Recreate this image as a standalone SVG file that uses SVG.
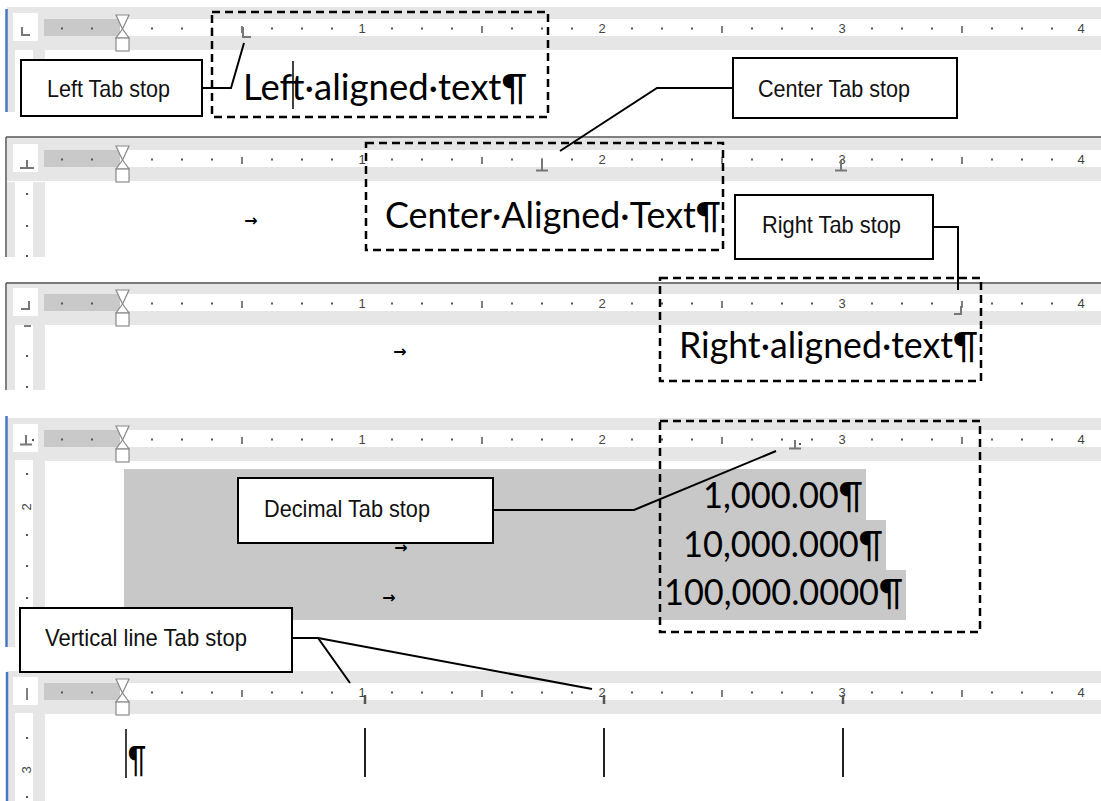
<svg xmlns="http://www.w3.org/2000/svg" xmlns:xlink="http://www.w3.org/1999/xlink" width="1101" height="801" viewBox="0 0 1101 801">
<style>
.band{fill:#e6e6e6}
.strip{fill:#fff}
.margin{fill:#c9c9c9}
.dot{fill:#555}
.tick{stroke:#555;stroke-width:1.5;fill:none}
.num{font-family:"Liberation Sans",Arial,sans-serif;font-size:13px;fill:#444;text-anchor:middle}
.hg{fill:#fff;stroke:#8a8a8a;stroke-width:1.2}
.mk{stroke:#777;stroke-width:2;fill:none}
.doc{font-family:Lato,"Open Sans",sans-serif;font-size:36px;fill:#000}
.dash{fill:none;stroke:#000;stroke-width:2.5;stroke-dasharray:8 5}
.box{fill:#fff;stroke:#000;stroke-width:2}
.lbl{font-family:"Liberation Sans",Arial,sans-serif;font-size:24px;fill:#111;text-anchor:middle}
.conn{fill:none;stroke:#000;stroke-width:2}
.frame{stroke:#555;stroke-width:1.5;fill:none}
.blue{stroke:#4a76c0;stroke-width:2.5;fill:none}
.vcol{fill:#e6e6e6}
.vwhite{fill:#fff}
.tab{font-family:"DejaVu Sans",sans-serif;font-size:16px;font-weight:bold;fill:#000;text-anchor:middle}
.cursor{stroke:#000;stroke-width:1.5}
.vline{stroke:#222;stroke-width:2}
</style>
<defs>
<g id="ruler">
<rect class="band" x="7" y="-12" width="1094" height="43"/>
<rect class="strip" x="44" y="0" width="1057" height="17"/>
<rect class="margin" x="44" y="0" width="76" height="17"/>
<rect x="13" y="-6" width="25" height="28" fill="#fff"/>
<path class="dot" d="M61 8.5h2v2h-2z M91 8.5h2v2h-2z M151 8.5h2v2h-2z M181 8.5h2v2h-2z M211 8.5h2v2h-2z M271 8.5h2v2h-2z M301 8.5h2v2h-2z M331 8.5h2v2h-2z M391 8.5h2v2h-2z M421 8.5h2v2h-2z M451 8.5h2v2h-2z M511 8.5h2v2h-2z M541 8.5h2v2h-2z M571 8.5h2v2h-2z M631 8.5h2v2h-2z M661 8.5h2v2h-2z M691 8.5h2v2h-2z M751 8.5h2v2h-2z M781 8.5h2v2h-2z M811 8.5h2v2h-2z M871 8.5h2v2h-2z M901 8.5h2v2h-2z M931 8.5h2v2h-2z M991 8.5h2v2h-2z M1021 8.5h2v2h-2z M1051 8.5h2v2h-2z"/>
<path class="tick" d="M242 7V14 M482 7V14 M722 7V14 M962 7V14"/>
<text class="num" x="362" y="14">1</text>
<text class="num" x="602" y="14">2</text>
<text class="num" x="842" y="14">3</text>
<text class="num" x="1081" y="14">4</text>
<path class="hg" d="M116 -4H129L122.5 10Z"/>
<path class="hg" d="M122.5 10L116 19H129Z"/>
<rect class="hg" x="116" y="19" width="13" height="13"/>
</g>
</defs>

<!-- Panel 1: left tab -->
<g id="panel-left">
<use xlink:href="#ruler" href="#ruler" y="19"/>
<rect class="vcol" x="7" y="50" width="38" height="62"/>
<rect class="vwhite" x="15" y="50" width="18" height="62"/>
<path class="blue" d="M6.5 9V112"/>
<path class="mk" d="M22 27V35H30"/>
<path class="mk" d="M243 27V37H251"/>
<text class="doc" x="243" y="100" textLength="284" lengthAdjust="spacingAndGlyphs">Left·aligned·text¶</text>
<line class="cursor" x1="293" y1="61" x2="293" y2="109"/>
</g>

<!-- Panel 2: center tab -->
<g id="panel-center">
<use xlink:href="#ruler" href="#ruler" y="150"/>
<rect class="vcol" x="7" y="182" width="38" height="75"/>
<rect class="vwhite" x="15" y="182" width="18" height="75"/>
<path class="frame" d="M6 137H1101 M6 137V257"/>
<path class="mk" d="M27 160V168 M20 168H34"/>
<path class="mk" d="M542 159V170 M536 170.5H548"/>
<path class="mk" d="M841 160V170 M835 170.5H847"/>
<path class="dot" d="M26 193h2v2h-2z M26 225h2v2h-2z M26 255h2v2h-2z"/>
<text class="tab" x="251" y="226">→</text>
<text class="doc" x="385" y="228" textLength="336" lengthAdjust="spacingAndGlyphs">Center·Aligned·Text¶</text>
</g>

<!-- Panel 3: right tab -->
<g id="panel-right">
<use xlink:href="#ruler" href="#ruler" y="294"/>
<rect class="vcol" x="7" y="325" width="38" height="65"/>
<rect class="vwhite" x="15" y="325" width="18" height="65"/>
<path class="frame" d="M6 283H1101 M6 283V390"/>
<path class="mk" d="M29 301V309H21"/>
<path class="mk" d="M961 306V314H954"/>
<path class="tick" d="M24 326H31"/>
<path class="dot" d="M26 355h2v2h-2z M26 386h2v2h-2z"/>
<text class="tab" x="400" y="357">→</text>
<text class="doc" x="679" y="358" textLength="299" lengthAdjust="spacingAndGlyphs">Right·aligned·text¶</text>
</g>

<!-- Panel 4: decimal tab -->
<g id="panel-decimal">
<use xlink:href="#ruler" href="#ruler" y="430"/>
<rect class="vcol" x="7" y="460" width="38" height="187"/>
<rect class="vwhite" x="15" y="460" width="18" height="187"/>
<path class="blue" d="M6.5 416V647"/>
<path class="mk" d="M26 435V444 M20 444.5H32"/>
<path class="dot" d="M32 439h2v2h-2z"/>
<path class="mk" d="M795 440V448 M789 448.5H801"/>
<path class="dot" d="M799 443h2v2h-2z"/>
<path class="dot" d="M26 473h2v2h-2z M26 534h2v2h-2z M26 565h2v2h-2z M26 597h2v2h-2z"/>
<text class="num" transform="translate(27,507) rotate(-90)" y="4">2</text>
<path d="M124 469H866V520H886V570H906V620H124Z" fill="#c8c8c8"/>
<text class="tab" x="401" y="553">→</text>
<text class="tab" x="389" y="603">→</text>
<text class="doc" x="703" y="508" textLength="160" lengthAdjust="spacingAndGlyphs">1,000.00¶</text>
<text class="doc" x="683" y="557" textLength="200" lengthAdjust="spacingAndGlyphs">10,000.000¶</text>
<text class="doc" x="664" y="605" textLength="239" lengthAdjust="spacingAndGlyphs">100,000.0000¶</text>
</g>

<!-- Panel 5: vertical line tab -->
<g id="panel-bar">
<use xlink:href="#ruler" href="#ruler" y="683"/>
<rect class="vcol" x="7" y="713" width="38" height="88"/>
<rect class="vwhite" x="15" y="713" width="18" height="88"/>
<path class="blue" d="M7 672V801"/>
<path class="tick" d="M27 688V700"/>
<path class="tick" style="stroke-width:2.5" d="M365 695V704 M604 695V704 M843 695V704"/>
<path class="dot" d="M26 737h2v2h-2z M26 796h2v2h-2z"/>
<text class="num" transform="translate(27,770) rotate(-90)" y="4">3</text>
<line class="cursor" x1="126" y1="729" x2="126" y2="778"/>
<text class="doc" x="128" y="772" font-size="32" textLength="18" lengthAdjust="spacingAndGlyphs">¶</text>
<line class="vline" x1="365" y1="728" x2="365" y2="777"/>
<line class="vline" x1="604" y1="728" x2="604" y2="777"/>
<line class="vline" x1="843" y1="728" x2="843" y2="777"/>
</g>

<!-- dashed highlight frames -->
<g id="frames">
<rect class="dash" x="212" y="12" width="336" height="105"/>
<rect class="dash" x="366" y="143" width="357" height="107"/>
<rect class="dash" x="660" y="278" width="321" height="103"/>
<rect class="dash" x="660" y="421" width="320" height="211"/>
</g>

<g id="connectors">
<polyline class="conn" points="202,88 231,88 244,43"/>
<polyline class="conn" points="733,88 657,88 560,151"/>
<polyline class="conn" points="933,227 958,227 958,290"/>
<polyline class="conn" points="493,510 634,510 776,451"/>
<polyline class="conn" points="292,638 318,638 350,683"/>
<line class="conn" x1="318" y1="638" x2="592" y2="689"/>
</g>

<g id="callout-left">
<rect class="box" x="21" y="60" width="181" height="56"/>
<text class="lbl" x="108.5" y="97" textLength="123" lengthAdjust="spacingAndGlyphs">Left Tab stop</text>
</g>
<g id="callout-center">
<rect class="box" x="733" y="58" width="224" height="60"/>
<text class="lbl" x="834" y="97" textLength="152" lengthAdjust="spacingAndGlyphs">Center Tab stop</text>
</g>
<g id="callout-right">
<rect class="box" x="735" y="195" width="198" height="64"/>
<text class="lbl" x="831.5" y="233" textLength="139" lengthAdjust="spacingAndGlyphs">Right Tab stop</text>
</g>
<g id="callout-decimal">
<rect class="box" x="238" y="478" width="255" height="65"/>
<text class="lbl" x="347" y="517" textLength="166" lengthAdjust="spacingAndGlyphs">Decimal Tab stop</text>
</g>
<g id="callout-vertical">
<rect class="box" x="20" y="608" width="272" height="64"/>
<text class="lbl" x="146" y="646" textLength="202" lengthAdjust="spacingAndGlyphs">Vertical line Tab stop</text>
</g>
</svg>
